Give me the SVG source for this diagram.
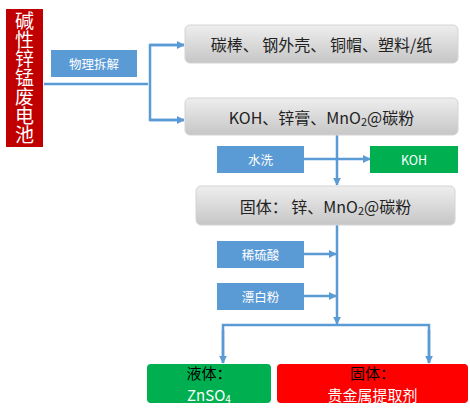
<svg xmlns="http://www.w3.org/2000/svg" width="470" height="414" viewBox="0 0 470 414">
<style>
text{font-family:"Microsoft YaHei","Noto Sans CJK SC","Liberation Sans",sans-serif;text-anchor:middle;dominant-baseline:central}
.lbl{fill:#5B9BD5}
.lt{fill:#fff;font-size:12.5px}
.grey{fill:url(#g);stroke:#d4d4d4;stroke-width:1}
.gt{fill:#222;font-size:16px}
.c{fill:none;stroke:#5B9BD5;stroke-width:2.5}
.ca{fill:none;stroke:#5B9BD5;stroke-width:2.5;marker-end:url(#ah)}
.bt{font-size:15px}
</style>
<defs>
<linearGradient id="g" x1="0" y1="0" x2="0" y2="1">
<stop offset="0" stop-color="#eeeeee"/>
<stop offset="1" stop-color="#c6c6c6"/>
</linearGradient>
<marker id="ah" viewBox="0 0 10 10" refX="9" refY="5" markerWidth="3.2" markerHeight="3.2" orient="auto" markerUnits="strokeWidth">
<path d="M0,0 L10,5 L0,10 z" fill="#5B9BD5"/>
</marker>
</defs>
<g id="connectors">
<line class="c" x1="44" y1="84" x2="148" y2="84"/>
<polyline class="c" points="184,45 150,45 150,120 184,120"/>
<line class="ca" x1="150" y1="45" x2="184" y2="45"/>
<line class="ca" x1="150" y1="120" x2="184" y2="120"/>
<line class="ca" x1="337" y1="135" x2="337" y2="185"/>
<line class="ca" x1="304" y1="159" x2="370" y2="159"/>
<line class="ca" x1="337" y1="225" x2="337" y2="324"/>
<line class="ca" x1="304" y1="254" x2="336" y2="254"/>
<line class="ca" x1="304" y1="296" x2="336" y2="296"/>
<polyline class="c" points="223,363 223,325 429,325 429,363"/>
<line class="ca" x1="223" y1="330" x2="223" y2="363"/>
<line class="ca" x1="429" y1="330" x2="429" y2="363"/>
</g>
<g id="battery">
<rect x="6" y="9" width="37" height="138" fill="#C00000"/>
<text x="24.5" y="78" fill="#fff" font-size="19" style="writing-mode:tb;text-anchor:middle;dominant-baseline:central">碱性锌锰废电池</text>
</g>
<g id="dismantle">
<rect class="lbl" x="51" y="50" width="86" height="27"/>
<text class="lt" x="94" y="63.5">物理拆解</text>
</g>
<g id="shell">
<rect class="grey" x="185" y="25" width="273" height="38" rx="5"/>
<text class="gt" x="321.5" y="44">碳棒、 钢外壳、 铜帽、塑料/纸</text>
</g>
<g id="paste">
<rect class="grey" x="185" y="98" width="273" height="37" rx="5"/>
<text class="gt" x="321.5" y="116.5">KOH、锌膏、MnO<tspan font-size="11" dy="4">2</tspan><tspan dy="-4">@碳粉</tspan></text>
</g>
<g id="wash">
<rect class="lbl" x="217" y="146" width="87" height="27"/>
<text class="lt" x="260.5" y="159.5">水洗</text>
</g>
<g id="koh">
<rect x="370" y="146" width="88" height="27" fill="#00B050"/>
<text class="lt" x="414" y="159.5">KOH</text>
</g>
<g id="solid">
<rect class="grey" x="196" y="186" width="259" height="39" rx="5"/>
<text class="gt" x="325.5" y="205.5">固体： 锌、MnO<tspan font-size="11" dy="4">2</tspan><tspan dy="-4">@碳粉</tspan></text>
</g>
<g id="acid">
<rect class="lbl" x="217" y="241" width="87" height="27"/>
<text class="lt" x="260.5" y="254.5">稀硫酸</text>
</g>
<g id="bleach">
<rect class="lbl" x="217" y="283" width="87" height="27"/>
<text class="lt" x="260.5" y="296.5">漂白粉</text>
</g>
<g id="liquid">
<rect x="147" y="364" width="124" height="39" rx="4" fill="#00B050"/>
<text class="bt" x="209" y="372" fill="#000">液体：</text>
<text class="bt" x="209" y="394" fill="#fff">ZnSO<tspan font-size="10" dy="4">4</tspan></text>
</g>
<g id="residue">
<rect x="277" y="364" width="191" height="39" rx="4" fill="#FF0000"/>
<text class="bt" x="372.5" y="372" fill="#000">固体：</text>
<text class="bt" x="372.5" y="394" fill="#fff">贵金属提取剂</text>
</g>
</svg>
